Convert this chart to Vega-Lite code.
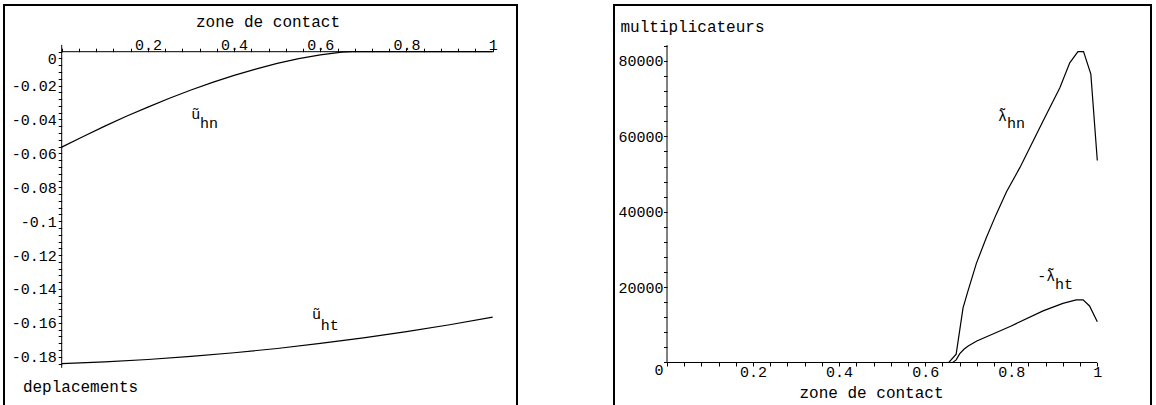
{
  "$schema": "https://vega.github.io/schema/vega-lite/v6.json",
  "padding": {"left": 3, "top": 4, "right": 0, "bottom": 0},
  "autosize": {"type": "pad"},
  "background": "white",
  "spacing": 95,
  "config": {
    "view": {"stroke": "#000", "strokeWidth": 2},
    "axis": {
      "labelFont": "Liberation Mono", "labelFontSize": 15, "labelColor": "#000",
      "titleFont": "Liberation Mono", "titleFontSize": 16, "titleFontWeight": "normal", "titleColor": "#000",
      "tickColor": "#000", "tickWidth": 1, "labelOverlap": false, "labelFlush": false, "labelBound": false,
      "grid": false, "domain": false
    }
  },
  "hconcat": [
    {
      "width": 513,
      "height": 405,
      "encoding": {
        "x": {
          "field": "x", "type": "quantitative",
          "scale": {"domain": [-0.13387, 1.05638], "nice": false, "zero": false},
          "axis": {
            "orient": "top", "offset": -46.7, "tickSize": 3.5, "labelPadding": -1.1, "labelBaseline": "alphabetic",
            "values": [0,0.04,0.08,0.12,0.16,0.2,0.24,0.28,0.32,0.36,0.4,0.44,0.48,0.52,0.56,0.6,0.64,0.68,0.72,0.76,0.8,0.84,0.88,0.92,0.96,1],
            "labelExpr": "datum.value > 0.01 && abs(datum.value*5 - round(datum.value*5)) < 0.01 ? format(datum.value, '.1~f') : ''",
            "encode": {"ticks": {
              "y": {"condition": {"test": "abs(datum.value*5 - round(datum.value*5)) < 0.01", "value": 3.5}, "value": 2},
              "y2": {"condition": {"test": "abs(datum.value*5 - round(datum.value*5)) < 0.01", "value": -3.5}, "value": -2}
            }},
            "title": "zone de contact", "titleX": 263.5, "titleY": -25.7, "titleAlign": "center", "titleBaseline": "alphabetic", "titleAngle": 0
          }
        },
        "y": {
          "field": "y", "type": "quantitative",
          "scale": {"domain": [-0.21139, 0.02755], "nice": false, "zero": false},
          "axis": {
            "orient": "left", "offset": -57.7, "tickSize": 3.5, "labelPadding": 2,
            "labelBaseline": {"condition": {"test": "datum.value === 0", "value": "top"}, "value": "middle"},
            "values": [0,-0.004,-0.008,-0.012,-0.016,-0.02,-0.024,-0.028,-0.032,-0.036,-0.04,-0.044,-0.048,-0.052,-0.056,-0.06,-0.064,-0.068,-0.072,-0.076,-0.08,-0.084,-0.088,-0.092,-0.096,-0.1,-0.104,-0.108,-0.112,-0.116,-0.12,-0.124,-0.128,-0.132,-0.136,-0.14,-0.144,-0.148,-0.152,-0.156,-0.16,-0.164,-0.168,-0.172,-0.176,-0.18,-0.184],
            "labelExpr": "abs(datum.value*50 - round(datum.value*50)) < 0.01 ? replace(format(datum.value, '.2~f'), '\u2212', '-') : ''",
            "encode": {"ticks": {
              "x": {"condition": {"test": "abs(datum.value*50 - round(datum.value*50)) < 0.01", "value": 3.5}, "value": 2},
              "x2": {"condition": {"test": "abs(datum.value*50 - round(datum.value*50)) < 0.01", "value": -3.5}, "value": -2}
            }},
            "title": "deplacements", "titleX": -39.3, "titleY": 386, "titleAlign": "left", "titleBaseline": "alphabetic", "titleAngle": 0
          }
        }
      },
      "layer": [
        {
          "data": {"values": [
            {"x": 0, "x2": 1, "y": 0, "y2": 0},
            {"x": 0, "x2": 0, "y": 0.004, "y2": -0.1865}
          ]},
          "mark": {"type": "rule", "color": "#000", "strokeWidth": 1},
          "encoding": {"x2": {"field": "x2"}, "y2": {"field": "y2"}}
        },
        {
          "data": {"values": [
            {"s": "hn", "x": 0, "y": -0.0563},
            {"s": "hn", "x": 0.05, "y": -0.05},
            {"s": "hn", "x": 0.1, "y": -0.0439},
            {"s": "hn", "x": 0.15, "y": -0.0381},
            {"s": "hn", "x": 0.2, "y": -0.0327},
            {"s": "hn", "x": 0.25, "y": -0.0275},
            {"s": "hn", "x": 0.3, "y": -0.0226},
            {"s": "hn", "x": 0.35, "y": -0.0181},
            {"s": "hn", "x": 0.4, "y": -0.014},
            {"s": "hn", "x": 0.45, "y": -0.0103},
            {"s": "hn", "x": 0.5, "y": -0.0069},
            {"s": "hn", "x": 0.55, "y": -0.0041},
            {"s": "hn", "x": 0.6, "y": -0.0019},
            {"s": "hn", "x": 0.65, "y": -0.0003},
            {"s": "hn", "x": 0.675, "y": 0},
            {"s": "hn", "x": 1, "y": 0},
            {"s": "ht", "x": 0, "y": -0.184},
            {"s": "ht", "x": 0.1, "y": -0.183},
            {"s": "ht", "x": 0.2, "y": -0.1816},
            {"s": "ht", "x": 0.3, "y": -0.1798},
            {"s": "ht", "x": 0.4, "y": -0.1776},
            {"s": "ht", "x": 0.5, "y": -0.1751},
            {"s": "ht", "x": 0.6, "y": -0.1721},
            {"s": "ht", "x": 0.7, "y": -0.1688},
            {"s": "ht", "x": 0.8, "y": -0.1651},
            {"s": "ht", "x": 0.9, "y": -0.1611},
            {"s": "ht", "x": 1, "y": -0.1566}
          ]},
          "mark": {"type": "line", "color": "#000", "strokeWidth": 1.2},
          "encoding": {"detail": {"field": "s"}}
        },
        {
          "data": {"values": [
            {"t": "ũ", "x": 0.3003, "y": -0.0399},
            {"t": "hn", "x": 0.3209, "y": -0.0448},
            {"t": "ũ", "x": 0.581, "y": -0.1579},
            {"t": "ht", "x": 0.6012, "y": -0.1644}
          ]},
          "mark": {"type": "text", "font": "Liberation Mono", "fontSize": 15, "align": "left", "baseline": "alphabetic", "color": "#000"},
          "encoding": {"text": {"field": "t"}}
        }
      ]
    },
    {
      "width": 537,
      "height": 405,
      "encoding": {
        "x": {
          "field": "x", "type": "quantitative",
          "scale": {"domain": [-0.12317, 1.12479], "nice": false, "zero": false},
          "axis": {
            "orient": "bottom", "offset": -47.5, "tickSize": 3.5, "labelPadding": 10, "labelBaseline": "alphabetic",
            "values": [0,0.04,0.08,0.12,0.16,0.2,0.24,0.28,0.32,0.36,0.4,0.44,0.48,0.52,0.56,0.6,0.64,0.68,0.72,0.76,0.8,0.84,0.88,0.92,0.96,1],
            "labelExpr": "datum.value > 0.01 && abs(datum.value*5 - round(datum.value*5)) < 0.01 ? format(datum.value, '.1~f') : ''",
            "encode": {"ticks": {
              "y": {"condition": {"test": "abs(datum.value*5 - round(datum.value*5)) < 0.01", "value": -3.5}, "value": -2},
              "y2": {"condition": {"test": "abs(datum.value*5 - round(datum.value*5)) < 0.01", "value": 3.5}, "value": 2}
            }},
            "title": "zone de contact", "titleX": 257, "titleY": 35, "titleAlign": "center", "titleBaseline": "alphabetic", "titleAngle": 0
          }
        },
        "y": {
          "field": "y", "type": "quantitative",
          "scale": {"domain": [-12603, 94853], "nice": false, "zero": false},
          "axis": {
            "orient": "left", "offset": -53, "tickSize": 3.5, "labelPadding": 0.5,
            "labelBaseline": {"condition": {"test": "datum.value === 0", "value": "top"}, "value": "middle"},
            "values": [0,4000,8000,12000,16000,20000,24000,28000,32000,36000,40000,44000,48000,52000,56000,60000,64000,68000,72000,76000,80000,84000],
            "labelExpr": "datum.value % 20000 === 0 ? format(datum.value, 'd') : ''",
            "encode": {"ticks": {
              "x": {"condition": {"test": "datum.value % 20000 === 0", "value": 3.5}, "value": 2},
              "x2": {"condition": {"test": "datum.value % 20000 === 0", "value": -3.5}, "value": -2}
            }},
            "title": "multiplicateurs", "titleX": -47, "titleY": 26, "titleAlign": "left", "titleBaseline": "alphabetic", "titleAngle": 0
          }
        }
      },
      "layer": [
        {
          "data": {"values": [
            {"x": 0, "x2": 1, "y": 0, "y2": 0},
            {"x": 0, "x2": 0, "y": 0, "y2": 84200}
          ]},
          "mark": {"type": "rule", "color": "#000", "strokeWidth": 1},
          "encoding": {"x2": {"field": "x2"}, "y2": {"field": "y2"}}
        },
        {
          "data": {"values": [
            {"s": "hn", "x": 0, "y": 0},
            {"s": "hn", "x": 0.655, "y": 0},
            {"s": "hn", "x": 0.672, "y": 2200},
            {"s": "hn", "x": 0.688, "y": 14500},
            {"s": "hn", "x": 0.6995, "y": 19000},
            {"s": "hn", "x": 0.719, "y": 26300},
            {"s": "hn", "x": 0.742, "y": 33100},
            {"s": "hn", "x": 0.765, "y": 39300},
            {"s": "hn", "x": 0.789, "y": 45300},
            {"s": "hn", "x": 0.82, "y": 51700},
            {"s": "hn", "x": 0.874, "y": 64100},
            {"s": "hn", "x": 0.913, "y": 72900},
            {"s": "hn", "x": 0.936, "y": 79500},
            {"s": "hn", "x": 0.955, "y": 82500},
            {"s": "hn", "x": 0.968, "y": 82500},
            {"s": "hn", "x": 0.985, "y": 76500},
            {"s": "hn", "x": 1, "y": 53600},
            {"s": "ht", "x": 0, "y": 0},
            {"s": "ht", "x": 0.664, "y": 0},
            {"s": "ht", "x": 0.672, "y": 700},
            {"s": "ht", "x": 0.68, "y": 2300},
            {"s": "ht", "x": 0.69, "y": 3500},
            {"s": "ht", "x": 0.7, "y": 4400},
            {"s": "ht", "x": 0.72, "y": 5700},
            {"s": "ht", "x": 0.76, "y": 7700},
            {"s": "ht", "x": 0.8, "y": 9700},
            {"s": "ht", "x": 0.874, "y": 13700},
            {"s": "ht", "x": 0.92, "y": 15700},
            {"s": "ht", "x": 0.951, "y": 16600},
            {"s": "ht", "x": 0.967, "y": 16600},
            {"s": "ht", "x": 0.982, "y": 15000},
            {"s": "ht", "x": 1, "y": 10800}
          ]},
          "mark": {"type": "line", "color": "#000", "strokeWidth": 1.2},
          "encoding": {"detail": {"field": "s"}}
        },
        {
          "data": {"values": [
            {"t": "λ̃", "x": 0.7692, "y": 64075},
            {"t": "hn", "x": 0.7901, "y": 62139},
            {"t": "-λ̃", "x": 0.8606, "y": 21624},
            {"t": "ht", "x": 0.9017, "y": 19422}
          ]},
          "mark": {"type": "text", "font": "Liberation Mono", "fontSize": 15, "align": "left", "baseline": "alphabetic", "color": "#000"},
          "encoding": {"text": {"field": "t"}}
        }
      ]
    }
  ]
}
